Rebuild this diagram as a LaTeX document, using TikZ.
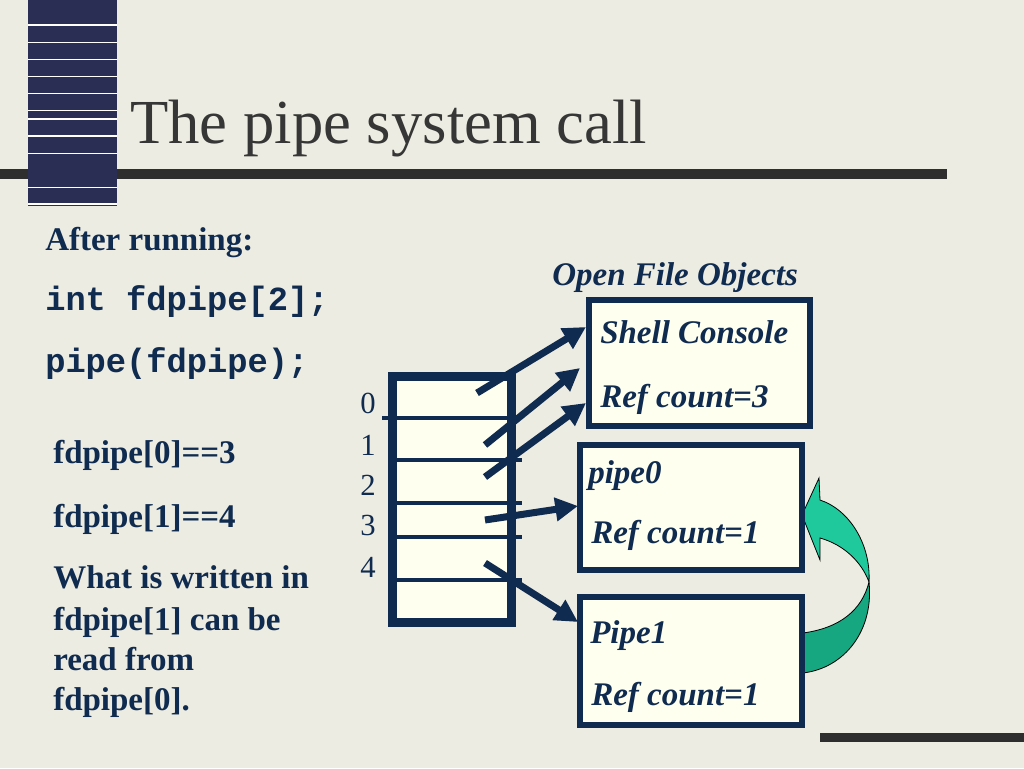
\documentclass[tikz,border=0pt]{standalone}
\usepackage{fontspec}
\setmainfont{Liberation Serif}
\newfontfamily\courfont{Liberation Mono}
\usetikzlibrary{arrows.meta}
\definecolor{bg}{HTML}{EDECE2}
\definecolor{navy}{HTML}{0F2B4F}
\definecolor{cream}{HTML}{FFFFF0}
\definecolor{stripc}{HTML}{2A2E55}
\definecolor{barc}{HTML}{2E2E2E}
\definecolor{titlec}{HTML}{363636}
\definecolor{gup}{HTML}{1FC99C}
\definecolor{glow}{HTML}{16A680}
\begin{document}
\begin{tikzpicture}[x=0.75pt,y=-0.75pt,
  txt/.style={anchor=base west, inner sep=0pt, text=navy, font=\fontsize{24.75}{28}\selectfont\bfseries},
  itxt/.style={txt, font=\fontsize{24.75}{28}\selectfont\bfseries\itshape},
  code/.style={anchor=base west, inner sep=0pt, text=navy, font=\fontsize{25.3}{28}\selectfont\courfont\bfseries},
  num/.style={anchor=base west, inner sep=0pt, text=navy, font=\fontsize{23}{26}\selectfont},
  objbox/.style={draw=navy, fill=cream, line width=4.5pt, inner sep=0pt},
  arr/.style={draw=navy, line width=5.25pt, -{Triangle[length=17pt,width=17pt]}},
  rowline/.style={draw=navy, line width=3pt}
]
\useasboundingbox[fill=bg] (0,0) rectangle (1024,768);

% decorations
\fill[barc] (0,169) rectangle (947,179);
\fill[barc] (820,733) rectangle (1024,742);
\fill[stripc] (28,0) rectangle (117,206);
\foreach \yy in {25,42.3,59.3,76.7,93.7,110.3,119,136,153.3,187.3,204}
  \draw[white, line width=1.1pt] (28,\yy) -- (117,\yy);

% title
\node[anchor=base west, inner sep=0pt, text=titlec, font=\fontsize{47}{56}\selectfont] (title) at (130,143) {The pipe system call};

% left texts
\node[txt] (after) at (45,250) {After running:};
\node[code] (decl) at (45,310) {int fdpipe[2];};
\node[code] (call) at (45,372) {pipe(fdpipe);};
\node[txt] (r0) at (53,463) {fdpipe[0]==3};
\node[txt] (r1) at (53,527) {fdpipe[1]==4};
\node[txt] (w1) at (53,588) {What is written in};
\node[txt] (w2) at (53,630) {fdpipe[1] can be};
\node[txt] (w3) at (53,670) {read from};
\node[txt] (w4) at (53,710) {fdpipe[0].};

% green curved arrow (behind boxes)
\filldraw[fill=glow, draw=black, line width=0.6pt]
  (803,633) .. controls (840,628) and (862,610) .. (869,582)
  .. controls (874,630) and (845,668) .. (803,673) -- cycle;
\filldraw[fill=gup, draw=black, line width=0.6pt]
  (820,500) .. controls (850,510) and (871,545) .. (869,582)
  .. controls (862,563) and (845,545) .. (820,538)
  -- (820,560) -- (802,515) -- (819,478) -- cycle;

% open file objects
\node[itxt] (ofo) at (552,285) {Open File Objects};
\node[objbox, minimum width=165.75pt, minimum height=94.5pt] (shell) at (699.5,363) {};
\node[objbox, minimum width=166.5pt, minimum height=93.75pt] (pipe0) at (691,507.5) {};
\node[objbox, minimum width=166.5pt, minimum height=96pt] (pipe1) at (691,661) {};
\node[itxt] (shellname) at (600,343) {Shell Console};
\node[itxt] (shellref) at (600,407) {Ref count=3};
\node[itxt] (p0name) at (588,483) {pipe0};
\node[itxt] (p0ref) at (591,543) {Ref count=1};
\node[itxt] (p1name) at (590,643) {Pipe1};
\node[itxt] (p1ref) at (591,705) {Ref count=1};

% fd table
\node[draw=navy, fill=cream, line width=6.75pt, minimum width=89.6pt, minimum height=184.5pt, inner sep=0pt] (fdt) at (452.25,499) {};
\draw[rowline] (382,418.3) -- (507,418.3);
\foreach \yy in {460,503.3,537.3,580}
  \draw[rowline] (397,\yy) -- (522,\yy);
\node[num] (n0) at (360,413) {0};
\node[num] (n1) at (360,455) {1};
\node[num] (n2) at (360,495) {2};
\node[num] (n3) at (360,535) {3};
\node[num] (n4) at (360,577) {4};

% arrows: start points inside fd rows, end points on object boxes
\coordinate (s0) at (477,393);
\coordinate (s1) at (485,445);
\coordinate (s2) at (485,477);
\coordinate (s3) at (485,520);
\coordinate (s4) at (485,563);
\coordinate (e0) at (586,327);
\coordinate (e1) at (580,368);
\coordinate (e2) at (586,403);
\coordinate (e3) at (578,506);
\coordinate (e4) at (578,622);
\draw[arr] (s0) -- (e0);
\draw[arr] (s1) -- (e1);
\draw[arr] (s2) -- (e2);
\draw[arr] (s3) -- (e3);
\draw[arr] (s4) -- (e4);
\end{tikzpicture}
\end{document}
